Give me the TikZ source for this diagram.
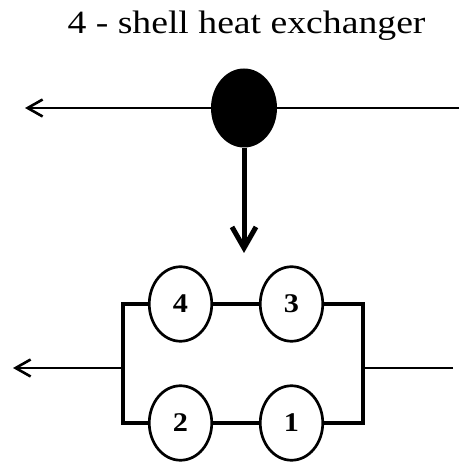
\documentclass[tikz,border=0pt]{standalone}
\usepackage{fontspec}
\setmainfont{Liberation Serif}
\usetikzlibrary{shapes.geometric,arrows.meta}
\begin{document}
\begin{tikzpicture}[x=1pt,y=1pt,
  unit/.style={ellipse,draw,line width=2.7pt,minimum width=62.5pt,minimum height=74.5pt,inner sep=0pt,
    font=\bfseries\fontsize{27}{27}\selectfont},
  thinline/.style={line width=1.6pt},
  branch/.style={line width=3.2pt,line join=miter},
  thinarrow/.style={thinline,-{Straight Barb[length=15pt,width=17pt,line width=2.6pt]}},
  thickarrow/.style={line width=5pt,-{Straight Barb[length=21pt,width=24pt]}},
]
\useasboundingbox (0,0) rectangle (459,468);
\node[anchor=base,inner sep=0pt] (title) at (246.5,434)
  {\scalebox{1.16}[1]{\fontsize{32.5}{38}\selectfont 4 - shell heat exchanger}};
\node[ellipse,fill=black,minimum width=66pt,minimum height=79pt,inner sep=0pt] (hx) at (244,360) {};
\coordinate (topR) at (459,360);
\coordinate (topL) at (25,360);
\draw[thinline] (topR) -- (hx.east);
\draw[thinarrow] (hx.west) -- (topL);
\coordinate (downtip) at (244,215);
\draw[thickarrow] (hx.south) -- (downtip);

\node[unit] (n4) at (180.5,164) {\scalebox{1.12}[1]{4}};
\node[unit] (n3) at (291.5,164) {\scalebox{1.12}[1]{3}};
\node[unit] (n2) at (180.5,45) {\scalebox{1.12}[1]{2}};
\node[unit] (n1) at (291.5,45) {\scalebox{1.12}[1]{1}};
\coordinate (ml) at (123,100);
\coordinate (mr) at (363,100);
\coordinate (inR) at (453,100);
\coordinate (outL) at (13,100);
\draw[branch] (n4.east) -- (n3.west);
\draw[branch] (n2.east) -- (n1.west);
\draw[branch] (n4.west) -| (ml) |- (n2.west);
\draw[branch] (n3.east) -| (mr) |- (n1.east);
\draw[thinline] (inR) -- (mr);
\draw[thinarrow] (ml) -- (outL);
\end{tikzpicture}
\end{document}
